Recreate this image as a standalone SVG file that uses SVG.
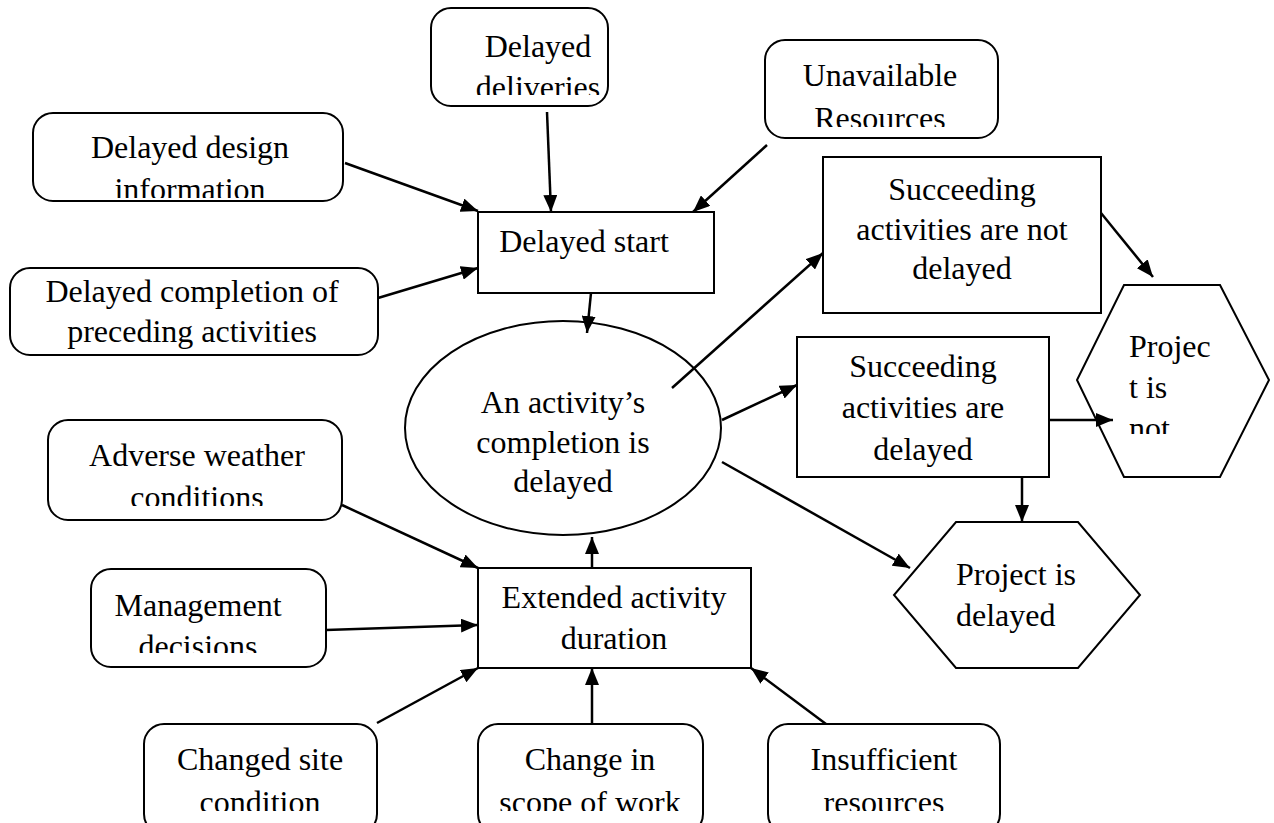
<svg xmlns="http://www.w3.org/2000/svg" width="1274" height="823" viewBox="0 0 1274 823">
<style>
.box{fill:#fff;stroke:#000;stroke-width:2}
.t{font-family:"Liberation Serif","Times New Roman",serif;font-size:32px;fill:#000;text-anchor:middle}
.ts{font-family:"Liberation Serif","Times New Roman",serif;font-size:32px;fill:#000}
.c line{stroke:#000;stroke-width:2.5}
</style>
<defs>
<marker id="ah" markerUnits="userSpaceOnUse" markerWidth="18" markerHeight="14" refX="17" refY="7" orient="auto">
<path d="M0,0 L17,7 L0,14 Z" fill="#000"/>
</marker>
<clipPath id="c1"><rect x="431" y="8" width="177" height="87"/></clipPath>
<clipPath id="c2"><rect x="765" y="40" width="233" height="87"/></clipPath>
<clipPath id="c3"><rect x="33" y="113" width="310" height="85"/></clipPath>
<clipPath id="c5"><rect x="48" y="420" width="294" height="86"/></clipPath>
<clipPath id="c6"><rect x="91" y="569" width="235" height="84"/></clipPath>
<clipPath id="c7"><rect x="144" y="724" width="233" height="87"/></clipPath>
<clipPath id="c8"><rect x="478" y="724" width="225" height="87"/></clipPath>
<clipPath id="c9"><rect x="768" y="724" width="232" height="87"/></clipPath>
<clipPath id="c10"><rect x="1077" y="285" width="192" height="149"/></clipPath>
</defs>

<g id="delayed-deliveries">
<rect class="box" x="431" y="8" width="177" height="98" rx="20"/>
<g clip-path="url(#c1)"><text class="t" x="538" y="57">Delayed</text><text class="t" x="538" y="98">deliveries</text></g>
</g>
<g id="unavailable-resources">
<rect class="box" x="765" y="40" width="233" height="98" rx="20"/>
<g clip-path="url(#c2)"><text class="t" x="880" y="86">Unavailable</text><text class="t" x="880" y="129">Resources</text></g>
</g>
<g id="delayed-design">
<rect class="box" x="33" y="113" width="310" height="88" rx="20"/>
<g clip-path="url(#c3)"><text class="t" x="190" y="158">Delayed design</text><text class="t" x="190" y="200">information</text></g>
</g>
<g id="delayed-completion">
<rect class="box" x="10" y="268" width="368" height="87" rx="20"/>
<text class="t" x="192" y="302">Delayed completion of</text>
<text class="t" x="192" y="342">preceding activities</text>
</g>
<g id="delayed-start">
<rect class="box" x="478" y="212" width="236" height="81"/>
<text class="t" x="584" y="252">Delayed start</text>
</g>
<g id="activity-completion">
<ellipse class="box" cx="563" cy="428" rx="158" ry="107"/>
<text class="t" x="563" y="413">An activity’s</text>
<text class="t" x="563" y="453">completion is</text>
<text class="t" x="563" y="492">delayed</text>
</g>
<g id="succ-not-delayed">
<rect class="box" x="823" y="157" width="278" height="156"/>
<text class="t" x="962" y="200">Succeeding</text>
<text class="t" x="962" y="240">activities are not</text>
<text class="t" x="962" y="279">delayed</text>
</g>
<g id="succ-delayed">
<rect class="box" x="797" y="337" width="252" height="140"/>
<text class="t" x="923" y="377">Succeeding</text>
<text class="t" x="923" y="418">activities are</text>
<text class="t" x="923" y="460">delayed</text>
</g>
<g id="project-not-delayed">
<polygon class="box" points="1124,285 1220,285 1269,380 1220,477 1124,477 1077,380"/>
<g clip-path="url(#c10)"><text class="ts" x="1129" y="357">Projec</text><text class="ts" x="1129" y="398">t is</text><text class="ts" x="1129" y="439">not</text></g>
</g>
<g id="project-delayed">
<polygon class="box" points="956,522 1078,522 1140,595 1078,668 956,668 894,595"/>
<text class="ts" x="956" y="585">Project is</text>
<text class="ts" x="956" y="626">delayed</text>
</g>
<g id="adverse-weather">
<rect class="box" x="48" y="420" width="294" height="100" rx="20"/>
<g clip-path="url(#c5)"><text class="t" x="197" y="466">Adverse weather</text><text class="t" x="197" y="508">conditions</text></g>
</g>
<g id="management">
<rect class="box" x="91" y="569" width="235" height="98" rx="20"/>
<g clip-path="url(#c6)"><text class="t" x="198" y="616">Management</text><text class="t" x="198" y="657">decisions</text></g>
</g>
<g id="extended-duration">
<rect class="box" x="478" y="568" width="273" height="100"/>
<text class="t" x="614" y="608">Extended activity</text>
<text class="t" x="614" y="649">duration</text>
</g>
<g id="changed-site">
<rect class="box" x="144" y="724" width="233" height="110" rx="20"/>
<g clip-path="url(#c7)"><text class="t" x="260" y="770">Changed site</text><text class="t" x="260" y="813">condition</text></g>
</g>
<g id="change-scope">
<rect class="box" x="478" y="724" width="225" height="110" rx="20"/>
<g clip-path="url(#c8)"><text class="t" x="590" y="770">Change in</text><text class="t" x="590" y="813">scope of work</text></g>
</g>
<g id="insufficient">
<rect class="box" x="768" y="724" width="232" height="110" rx="20"/>
<g clip-path="url(#c9)"><text class="t" x="884" y="770">Insufficient</text><text class="t" x="884" y="813">resources</text></g>
</g>

<g class="c" id="connectors">
<line x1="345" y1="163" x2="478" y2="211" marker-end="url(#ah)"/>
<line x1="547" y1="112" x2="551" y2="212" marker-end="url(#ah)"/>
<line x1="767" y1="145" x2="693" y2="212" marker-end="url(#ah)"/>
<line x1="378" y1="298" x2="478" y2="268" marker-end="url(#ah)"/>
<line x1="591" y1="293" x2="587" y2="333" marker-end="url(#ah)"/>
<line x1="672" y1="388" x2="823" y2="253" marker-end="url(#ah)"/>
<line x1="722" y1="420" x2="797" y2="385" marker-end="url(#ah)"/>
<line x1="722" y1="462" x2="910" y2="568" marker-end="url(#ah)"/>
<line x1="1101" y1="213" x2="1153" y2="277" marker-end="url(#ah)"/>
<line x1="1049" y1="420" x2="1113" y2="420" marker-end="url(#ah)"/>
<line x1="1022" y1="477" x2="1022" y2="522" marker-end="url(#ah)"/>
<line x1="592" y1="568" x2="592" y2="537" marker-end="url(#ah)"/>
<line x1="342" y1="505" x2="478" y2="568" marker-end="url(#ah)"/>
<line x1="326" y1="630" x2="478" y2="625" marker-end="url(#ah)"/>
<line x1="377" y1="723" x2="478" y2="668" marker-end="url(#ah)"/>
<line x1="592" y1="724" x2="592" y2="668" marker-end="url(#ah)"/>
<line x1="826" y1="724" x2="751" y2="668" marker-end="url(#ah)"/>
</g>
</svg>
